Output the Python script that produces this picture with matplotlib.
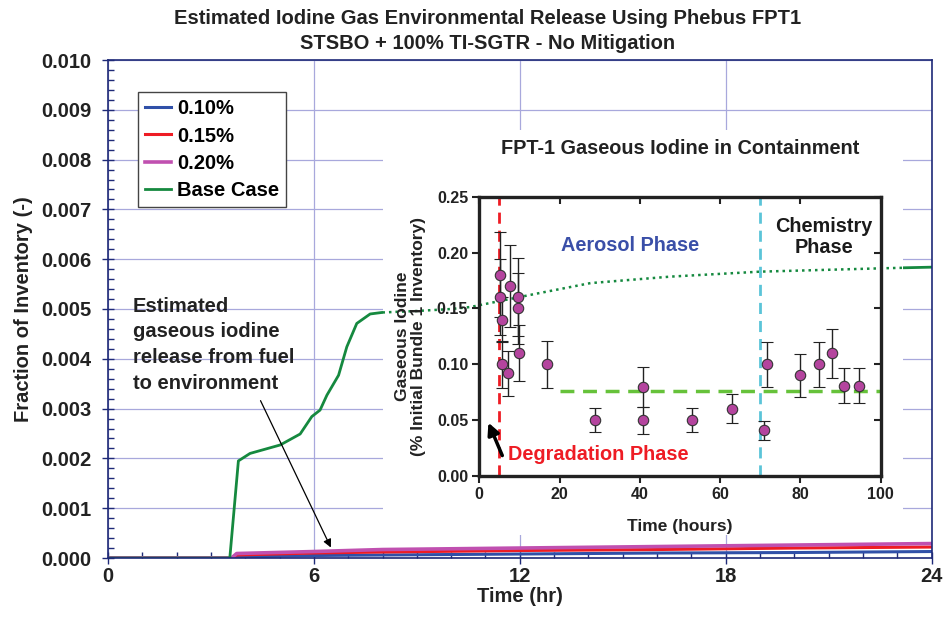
import numpy as np
from matplotlib import pyplot as plt
from matplotlib.patches import Rectangle
from matplotlib.ticker import MultipleLocator

plt.rcParams['font.family'] = ['Liberation Sans', 'DejaVu Sans']
plt.rcParams['font.weight'] = 'bold'
plt.rcParams['axes.labelweight'] = 'bold'
plt.rcParams['axes.titleweight'] = 'bold'

# main chart: fraction of inventory vs time (hr)
t_base = [0, 3.55, 3.8, 4.14, 5.02, 5.60, 5.94, 6.18, 6.38, 6.72, 6.96, 7.25, 7.64, 7.98,
          9.0, 10.0, 10.56, 12.5, 14.06, 16.39, 19.01, 22.71, 24.0]
v_base = [0, 0, 0.00195, 0.0021, 0.00227, 0.00249, 0.00284, 0.00297, 0.00327, 0.00367,
          0.00424, 0.00471, 0.0049, 0.00493, 0.00496, 0.0050, 0.00504, 0.00531, 0.00552,
          0.00565, 0.00575, 0.00582, 0.00584]

t_low = [0, 3.6, 3.75, 6, 8, 12, 16, 20, 24]
v_010 = [0, 0, 0.00002, 0.00005, 0.00006, 0.00008, 0.00010, 0.00011, 0.00013]
v_015 = [0, 0, 0.00006, 0.00010, 0.00012, 0.00015, 0.00017, 0.00020, 0.00022]
v_020 = [0, 0, 0.00009, 0.00013, 0.00017, 0.00020, 0.00023, 0.00026, 0.00029]

# inset: FPT-1 gaseous iodine measurements
ins_t = [5.2, 5.2, 5.7, 5.7, 7.2, 7.7, 9.7, 9.7, 9.9, 16.8, 28.9, 40.7, 40.7, 53.0,
         63.1, 70.9, 71.7, 80.0, 84.6, 87.8, 90.8, 94.6]
ins_v = [0.18, 0.16, 0.14, 0.10, 0.092, 0.17, 0.16, 0.15, 0.11, 0.10, 0.05, 0.08, 0.05, 0.05,
         0.06, 0.041, 0.10, 0.09, 0.10, 0.11, 0.081, 0.081]
ins_err = [0.038, 0.034, 0.02, 0.021, 0.02, 0.037, 0.035, 0.032, 0.025, 0.021, 0.011, 0.018,
           0.012, 0.011, 0.013, 0.0085, 0.02, 0.019, 0.02, 0.022, 0.016, 0.016]

W, H = 946, 634
fig = plt.figure(figsize=(W / 100, H / 100), dpi=100)
ax = fig.add_axes([108 / W, 1 - 558 / H, (931.5 - 108) / W, (558 - 60) / H])

navy = '#1f2a78'
ax.plot(t_low, v_010, color='#3050a8', lw=2.2, label='0.10%')
ax.plot(t_low, v_015, color='#ee1c24', lw=2.2, label='0.15%')
ax.plot(t_low, v_020, color='#c050b0', lw=2.6, label='0.20%')
ax.plot(t_base, v_base, color='#15893f', lw=2.0, label='Base Case')

ax.set_xlim(0, 24)
ax.set_ylim(0, 0.010)
ax.set_xticks([0, 6, 12, 18, 24])
ax.set_yticks(np.arange(0, 0.0101, 0.001))
ax.set_yticklabels(['%.3f' % v for v in np.arange(0, 0.0101, 0.001)])
ax.xaxis.set_minor_locator(MultipleLocator(1))
ax.yaxis.set_minor_locator(MultipleLocator(0.0002))
ax.tick_params(which='major', direction='inout', length=9, width=1, color=navy,
               labelsize=14.5, labelcolor='#222222')
ax.tick_params(axis='x', which='major', pad=2)
ax.tick_params(axis='y', which='major', pad=7.5)
ax.tick_params(which='minor', direction='in', length=4, width=1, color=navy)
for s in ax.spines.values():
    s.set_color(navy)
    s.set_linewidth(1.2)
ax.grid(True, which='major', color='#a8a8dc', lw=0.9)
ax.set_axisbelow(True)
ax.set_ylabel('Fraction of Inventory (-)', fontsize=14.5, labelpad=6, color='#222222')
ax.set_xlabel('Time (hr)', fontsize=14.5, labelpad=1, color='#222222')

leg = ax.legend(loc='upper left', bbox_to_anchor=(0.0364, 0.9357), borderaxespad=0,
                fontsize=14.5, handlelength=1.3, handletextpad=0.3, labelspacing=0.42,
                borderpad=0.35, fancybox=False, framealpha=1)
leg.get_frame().set_edgecolor('#444444')
leg.get_frame().set_linewidth(1.0)

ax.text(0.73, 0.00428, 'Estimated\ngaseous iodine\nrelease from fuel\nto environment',
        fontsize=14.5, va='center', ha='left', linespacing=1.45, color='#222222')
ax.annotate('', xy=(6.53, 0.00016), xytext=(4.41, 0.00321),
            arrowprops=dict(arrowstyle='-|>', color='black', lw=0.9, mutation_scale=12))

fig.text(488 / W, 1 - 31 / H,
         'Estimated Iodine Gas Environmental Release Using Phebus FPT1\n'
         'STSBO + 100% TI-SGTR - No Mitigation',
         ha='center', va='center', fontsize=14.5, linespacing=1.45, color='#222222')

# white panel behind the inset picture
rect = Rectangle((382.7 / W, 1 - 535 / H), (903 - 382.7) / W, (535 - 130) / H,
                 transform=fig.transFigure, facecolor='white', edgecolor='none', zorder=1)
fig.patches.append(rect)

ins = fig.add_axes([479.3 / W, 1 - 476 / H, (880.5 - 479.3) / W, (476 - 196.7) / H],
                   zorder=2)
ins.patch.set_alpha(0)

dotted, = ins.plot(t_base, v_base, transform=ax.transData, color='#15893f',
                   lw=1.8, ls=(0, (1, 1.6)), zorder=1)
dotted.set_clip_path(rect)

ins.axvline(5, color='#ee1c24', lw=2, ls=(0, (4, 2.5)), zorder=2)
ins.axvline(70, color='#5bc4d8', lw=2, ls=(0, (4, 2.5)), zorder=2)
ins.plot([20, 100], [0.076, 0.076], color='#66c23a', lw=2.5, ls=(0, (4, 2.5)), zorder=2)
ins.errorbar(ins_t, ins_v, yerr=ins_err, fmt='o', color='black', ecolor='#222222',
             elinewidth=1, capsize=4, capthick=1, markersize=7.5,
             markerfacecolor='#b4449e', markeredgecolor='#333333', markeredgewidth=0.8,
             zorder=3)

ins.set_xlim(0, 100)
ins.set_ylim(0, 0.25)
ins.set_xticks([0, 20, 40, 60, 80, 100])
ins.set_yticks([0, 0.05, 0.10, 0.15, 0.20, 0.25])
ins.set_yticklabels(['0.00', '0.05', '0.10', '0.15', '0.20', '0.25'])
ins.tick_params(labelsize=11.5, length=5, width=1.5, color='#222222', pad=3,
                labelcolor='#222222')
ins.tick_params(top=True, right=True, which='major')
for s in ins.spines.values():
    s.set_color('#222222')
    s.set_linewidth(2.4)
ins.set_xlabel('Time (hours)', fontsize=12.5, labelpad=12, color='#222222')
ins.set_ylabel('Gaseous Iodine\n(% Initial Bundle 1 Inventory)', fontsize=12.5,
               labelpad=8, linespacing=1.02, color='#222222')
ins.set_title('FPT-1 Gaseous Iodine in Containment', fontsize=14.3, pad=31,
              color='#222222')
# inward ticks on top/right, outward on bottom/left
for t in ins.xaxis.get_major_ticks():
    t.tick2line.set_marker(3)
for t in ins.yaxis.get_major_ticks():
    t.tick2line.set_marker(0)

ins.text(37.6, 0.2067, 'Aerosol Phase', color='#3a4fa8', fontsize=14.3,
         ha='center', va='center')
ins.text(85.9, 0.214, 'Chemistry\nPhase', color='#1a1a1a', fontsize=14.3,
         ha='center', va='center', linespacing=1.1)
ins.text(29.6, 0.0188, 'Degradation Phase', color='#ee1c24', fontsize=14.3,
         ha='center', va='center')
ins.annotate('', xy=(2.0, 0.05), xytext=(6.0, 0.016),
             arrowprops=dict(arrowstyle='-|>,head_width=0.35,head_length=0.7',
                             color='black', lw=2.5, mutation_scale=10))

fig.savefig('out.png', dpi=100)
